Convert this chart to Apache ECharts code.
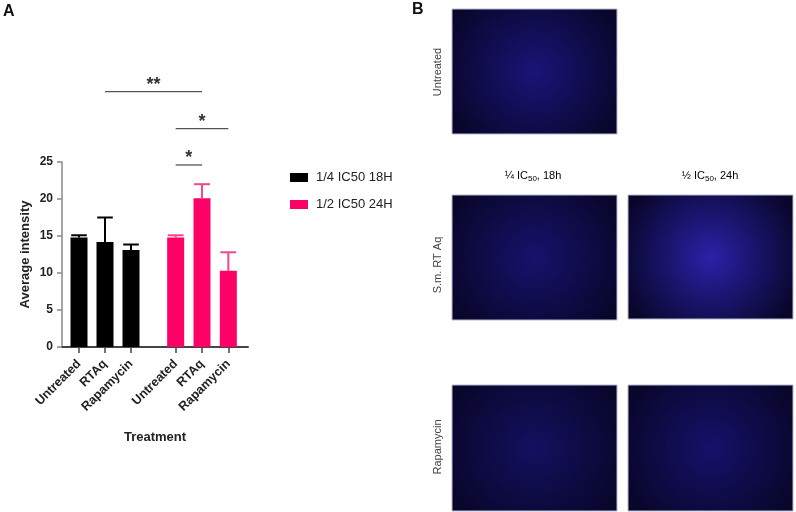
<!DOCTYPE html>
<html>
<head>
<meta charset="utf-8">
<script src="https://cdn.jsdelivr.net/npm/echarts@6/dist/echarts.min.js"></script>
<style>
  html, body { margin: 0; padding: 0; background: #fff; }
  #main { width: 796px; height: 512px; }
</style>
</head>
<body>
<div id="main"></div>
<script>
// data
var categories = ['Untreated', 'RTAq', 'Rapamycin'];
var groupNames = ['1/4 IC50 18H', '1/2 IC50 24H'];
var mean18h = [14.8, 14.2, 13.1];
var err18h = [0.3, 3.3, 0.75];
var mean24h = [14.8, 20.1, 10.3];
var err24h = [0.3, 1.9, 2.5];
var yMin = 0, yMax = 25, yStep = 5;
// significance brackets: [group, category] -> [group, category], label, height (axis units)
var compFrom = [[0, 1], [1, 0], [1, 0]];
var compTo = [[1, 1], [1, 2], [1, 1]];
var compLabel = ['**', '*', '*'];
var compLevel = [34.5, 29.5, 24.6];

// panel B labels
var rowLabels = ['Untreated', 'S.m. RT Aq', 'Rapamycin'];

var FONT = 'Liberation Sans, Arial, sans-serif';
var black = '#000000';
var pink = '#ff0066';

var myChart = echarts.init(document.getElementById('main'));

// error bar (upper whisker only)
function errSeries(idx, name, means, errs, color) {
    var d = [];
    for (var i = 0; i < means.length; i++) {
        d.push([i, means[i], means[i] + errs[i]]);
    }
    return {
        name: name + ' err',
        type: 'custom',
        xAxisIndex: idx,
        yAxisIndex: idx,
        z: 5,
        silent: true,
        data: d,
        renderItem: function (params, api) {
            var p0 = api.coord([api.value(0), api.value(1)]);
            var p1 = api.coord([api.value(0), api.value(2)]);
            var half = api.size([1, 0])[0] * 0.3;
            var st = { stroke: color, lineWidth: 2 };
            return {
                type: 'group',
                children: [
                    { type: 'line', shape: { x1: p0[0], y1: p0[1], x2: p1[0], y2: p1[1] }, style: st },
                    { type: 'line', shape: { x1: p1[0] - half, y1: p1[1], x2: p1[0] + half, y2: p1[1] }, style: st }
                ]
            };
        }
    };
}

function subGrid(idx) {
    return {
        type: 'category',
        gridIndex: idx,
        data: categories,
        axisLine: { show: false },
        axisTick: { show: true, alignWithLabel: true, length: 6, lineStyle: { color: '#444', width: 1.5 } },
        axisLabel: { rotate: 45, margin: 15, fontFamily: FONT, fontWeight: 'bold', fontSize: 12.5, color: '#222', interval: 0 }
    };
}

function hiddenY(idx) {
    return { type: 'value', gridIndex: idx, min: yMin, max: yMax, interval: yStep, show: false };
}

var option = {
    backgroundColor: '#fff',
    animation: false,
    grid: [
        { left: 62, top: 162, width: 186, height: 185 },
        { left: 66, top: 162, width: 78, height: 185 },
        { left: 162.5, top: 162, width: 79, height: 185 }
    ],
    legend: {
        data: groupNames,
        orient: 'vertical',
        left: 285,
        top: 166,
        icon: 'rect',
        itemWidth: 18,
        itemHeight: 9,
        itemGap: 14,
        textStyle: { fontFamily: FONT, fontSize: 13, color: '#222', padding: [0, 0, 0, 3] }
    },
    xAxis: [
        {
            type: 'category',
            gridIndex: 0,
            data: [''],
            axisLine: { show: true, lineStyle: { color: '#444', width: 2 } },
            axisTick: { show: false },
            axisLabel: { show: false },
            name: 'Treatment',
            nameLocation: 'middle',
            nameGap: 84,
            nameTextStyle: { fontFamily: FONT, fontWeight: 'bold', fontSize: 13, color: '#222' }
        },
        subGrid(1),
        subGrid(2)
    ],
    yAxis: [
        {
            type: 'value',
            gridIndex: 0,
            min: yMin,
            max: yMax,
            interval: yStep,
            name: 'Average intensity',
            nameLocation: 'middle',
            nameGap: 30,
            nameTextStyle: { fontFamily: FONT, fontWeight: 'bold', fontSize: 13, color: '#222' },
            axisLine: { show: true, lineStyle: { color: '#888', width: 1.5 } },
            axisTick: { show: true, length: 5, lineStyle: { color: '#888', width: 1.5 } },
            axisLabel: { margin: 9, fontFamily: FONT, fontWeight: 'bold', fontSize: 12, color: '#222' },
            splitLine: { show: false }
        },
        hiddenY(1),
        hiddenY(2)
    ],
    series: [
        {
            name: groupNames[0],
            type: 'bar',
            xAxisIndex: 1,
            yAxisIndex: 1,
            barWidth: 17,
            itemStyle: { color: black },
            data: mean18h
        },
        {
            name: groupNames[1],
            type: 'bar',
            xAxisIndex: 2,
            yAxisIndex: 2,
            barWidth: 17,
            itemStyle: { color: pink },
            data: mean24h
        },
        errSeries(1, groupNames[0], mean18h, err18h, black),
        errSeries(2, groupNames[1], mean24h, err24h, '#f2478a')
    ]
};

myChart.setOption(option);

// annotations, panel letters and panel B
var g = [];
g.push({ type: 'text', left: 3, top: 4, style: { text: 'A', font: 'bold 16px ' + FONT, fill: '#111' } });
g.push({ type: 'text', left: 412, top: 2, style: { text: 'B', font: 'bold 16px ' + FONT, fill: '#111' } });

for (var k = 0; k < compLabel.length; k++) {
    var a = myChart.convertToPixel({ gridIndex: compFrom[k][0] + 1 }, [compFrom[k][1], compLevel[k]]);
    var b = myChart.convertToPixel({ gridIndex: compTo[k][0] + 1 }, [compTo[k][1], compLevel[k]]);
    g.push({
        type: 'line',
        shape: { x1: a[0], y1: a[1], x2: b[0], y2: b[1] },
        style: { stroke: '#555', lineWidth: 1.3 }
    });
    g.push({
        type: 'text',
        x: (a[0] + b[0]) / 2,
        y: a[1] - 7,
        style: { text: compLabel[k], font: 'bold 18px ' + FONT, fill: '#333', align: 'center', verticalAlign: 'middle' }
    });
}

// microscopy placeholders
function img(x, y, w, h, mid) {
    return {
        type: 'rect',
        shape: { x: x, y: y, width: w, height: h },
        style: {
            fill: {
                type: 'radial', x: 0.5, y: 0.5, r: 0.75,
                colorStops: [{ offset: 0, color: mid }, { offset: 1, color: '#08062a' }]
            },
            stroke: '#b8b8d0',
            lineWidth: 1
        }
    };
}
g.push(img(452, 9, 165, 125, '#1a1478'));
g.push(img(452, 195, 165, 125, '#17126c'));
g.push(img(628, 195, 165, 124, '#2a21a8'));
g.push(img(452, 385, 165, 126, '#141060'));
g.push(img(628, 385, 165, 126, '#16116a'));

var rowY = [72, 265, 447];
for (var r = 0; r < rowLabels.length; r++) {
    g.push({
        type: 'text',
        x: 438,
        y: rowY[r],
        rotation: Math.PI / 2,
        style: { text: rowLabels[r], font: '11px ' + FONT, fill: '#444', align: 'center', verticalAlign: 'middle' }
    });
}
var richTxt = {
    n: { fontFamily: FONT, fontSize: 11, color: '#444', lineHeight: 14, verticalAlign: 'bottom' },
    s: { fontFamily: FONT, fontSize: 8, color: '#444', lineHeight: 10, verticalAlign: 'bottom', padding: [0, 0, -2, 0] }
};
g.push({
    type: 'text', x: 533, y: 174,
    style: { text: '{n|¼ IC}{s|50}{n|, 18h}', rich: richTxt, align: 'center', verticalAlign: 'middle' }
});
g.push({
    type: 'text', x: 710, y: 174,
    style: { text: '{n|½ IC}{s|50}{n|, 24h}', rich: richTxt, align: 'center', verticalAlign: 'middle' }
});

myChart.setOption({ graphic: g });
</script>
</body>
</html>
